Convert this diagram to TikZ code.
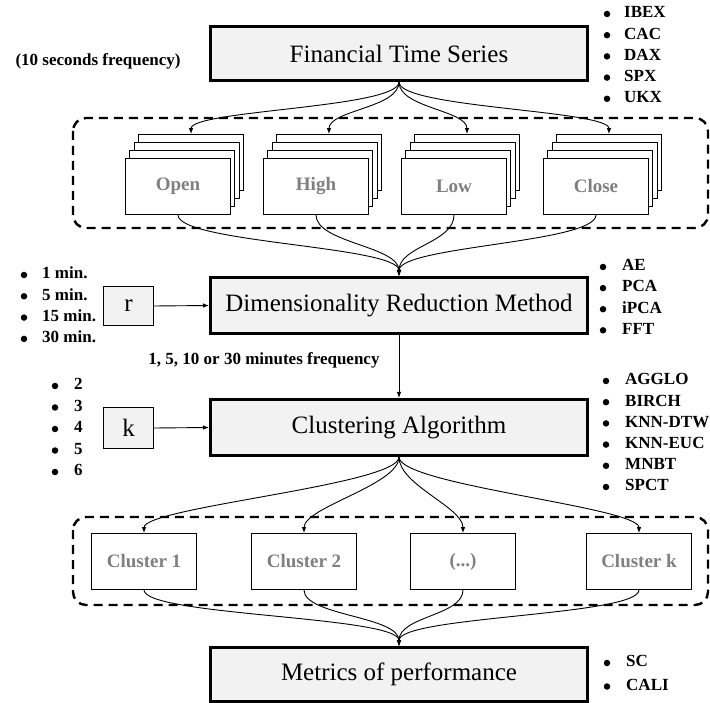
\documentclass[tikz,border=0pt]{standalone}
\usepackage{fontspec}
\setmainfont{Liberation Serif}
\usetikzlibrary{arrows.meta}
\definecolor{boxgray}{HTML}{F2F2F2}
\definecolor{labelgray}{HTML}{808080}
\begin{document}
\begin{tikzpicture}[x=1pt,y=-1pt,
  mainbox/.style={draw, line width=3pt, fill=boxgray, minimum width=377pt, inner sep=0pt,
    font=\fontsize{25}{28}\selectfont},
  parbox/.style={draw, line width=0.9pt, fill=boxgray, minimum width=50pt, inner sep=0pt,
    font=\fontsize{25}{28}\selectfont},
  stk/.style={draw, line width=0.8pt, fill=white, minimum width=105pt, minimum height=56pt, inner sep=0pt,
    font=\bfseries\fontsize{19}{22}\selectfont, text=labelgray},
  listtxt/.style={anchor=west, inner sep=0pt, font=\bfseries\fontsize{17}{20}\selectfont,
    text height=0.68em, text depth=0.18em},
  bul/.style={circle, fill=black, inner sep=0pt, minimum size=6.5pt},
  arr/.style={-{Latex[length=6pt,width=4.5pt]}, line width=0.9pt},
  dashbox/.style={line width=2.4pt, dash pattern=on 9pt off 6pt, rounded corners=13pt}
]
\useasboundingbox (0,0) rectangle (710,703);

% dashed groups
\draw[dashbox] (73,118) rectangle (708,228);
\draw[dashbox] (73,517) rectangle (708,605);

% main boxes
\node[mainbox, minimum height=54pt] (fts) at (399,53.5) {Financial Time Series};
\node[mainbox, minimum height=56pt] (drm) at (399,305.5) {Dimensionality Reduction Method};
\node[mainbox, minimum height=56pt] (ca) at (399,427.5) {Clustering Algorithm};
\node[mainbox, minimum height=54pt] (mp) at (399,674.5) {Metrics of performance};

% parameter boxes
\node[parbox, minimum height=39pt] (r) at (128.5,306) {r};
\node[parbox, minimum height=41pt] (k) at (128.5,428) {k};

% side labels
\node[listtxt, anchor=center] (tenSec) at (98,63) {(10 seconds frequency)};
\node[listtxt, anchor=center] (freq) at (264,362) {1, 5, 10 or 30 minutes frequency};

% stacked series
\foreach \nm/\cx/\lab in {open/178/Open, high/316/High, low/454/Low, close/596/Close} {
  \node[stk] (\nm3) at (\cx+13,162.5) {};
  \node[stk] (\nm2) at (\cx+8.7,170.5) {};
  \node[stk] (\nm1) at (\cx+4.3,178.5) {};
  \node[stk] (\nm) at (\cx,186.5) {\lab};
}

% clusters
\node[stk] (c1) at (144,561.5) {Cluster 1};
\node[stk] (c2) at (304,561.5) {Cluster 2};
\node[stk] (c3) at (463,561.5) {(...)};
\node[stk] (ck) at (639,561.5) {Cluster k};

% connectors
\foreach \nm in {open,high,low,close}
  \draw[arr] (fts.south) .. controls +(0,26) and +(0,-24) .. (\nm3.north);
\foreach \nm in {open,high,low,close}
  \draw[arr] (\nm.south) .. controls +(0,28) and +(0,-30) .. (drm.north);
\draw[arr] (r.east) -- (drm.west);
\draw[arr] (k.east) -- (ca.west);
\draw[arr] (drm.south) -- (ca.north);
\foreach \nm in {c1,c2,c3,ck}
  \draw[arr] (ca.south) .. controls +(0,28) and +(0,-26) .. (\nm.north);
\foreach \nm in {c1,c2,c3,ck}
  \draw[arr] (\nm.south) .. controls +(0,26) and +(0,-30) .. (mp.north);

% bullet lists
\foreach \t [count=\i] in {IBEX,CAC,DAX,SPX,UKX} {
  \node[bul] (ib\i) at (607,{14+21.2*(\i-1)}) {};
  \node[listtxt] (it\i) at (624,{15.4+21.2*(\i-1)}) {\t};
}
\foreach \t [count=\i] in {AE,PCA,iPCA,FFT} {
  \node[bul] (db\i) at (603,{267+21.1*(\i-1)}) {};
  \node[listtxt] (dt\i) at (622,{268.4+21.1*(\i-1)}) {\t};
}
\foreach \t [count=\i] in {AGGLO,BIRCH,KNN-DTW,KNN-EUC,MNBT,SPCT} {
  \node[bul] (cb\i) at (606,{381+21.2*(\i-1)}) {};
  \node[listtxt] (ct\i) at (625,{382.4+21.2*(\i-1)}) {\t};
}
\foreach \t [count=\i] in {SC,CALI} {
  \node[bul] (mb\i) at (607,{663+23.5*(\i-1)}) {};
  \node[listtxt] (mt\i) at (626,{664.4+23.5*(\i-1)}) {\t};
}
\foreach \t [count=\i] in {1 min.,5 min.,15 min.,30 min.} {
  \node[bul] (rb\i) at (24,{275+21.3*(\i-1)}) {};
  \node[listtxt] (rt\i) at (42,{276.4+21.3*(\i-1)}) {\t};
}
\foreach \t [count=\i] in {2,3,4,5,6} {
  \node[bul] (kb\i) at (55,{386+21.5*(\i-1)}) {};
  \node[listtxt] (kt\i) at (74,{387.4+21.5*(\i-1)}) {\t};
}
\end{tikzpicture}
\end{document}
